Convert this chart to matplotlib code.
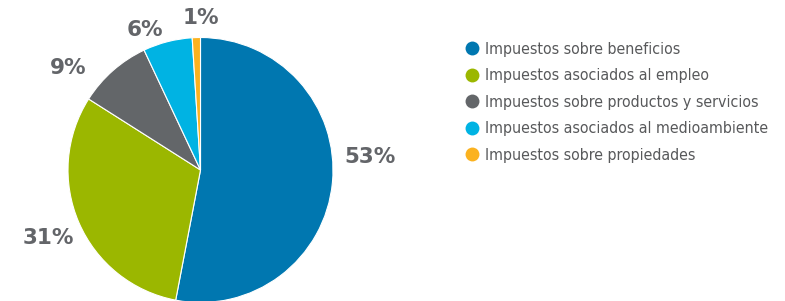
import matplotlib
matplotlib.use('Agg')
import matplotlib.pyplot as plt
from matplotlib.lines import Line2D

categories = ['Impuestos sobre beneficios',
              'Impuestos asociados al empleo',
              'Impuestos sobre productos y servicios',
              'Impuestos asociados al medioambiente',
              'Impuestos sobre propiedades']
values = [53, 31, 9, 6, 1]
pct_labels = ['53%', '31%', '9%', '6%', '1%']
colors = ['#0077b0', '#9bb700', '#636669', '#00b3e3', '#fbb21f']

# where the % labels sit, in pie radius units (picked by eye)
label_pos = [(1.28, 0.10), (-1.15, -0.51), (-1.0, 0.77), (-0.42, 1.06), (0.0, 1.15)]

W, H = 785, 301
fig = plt.figure(figsize=(W / 100, H / 100), dpi=100)

cx, cy, r = 200.5, 131.0, 132.5
ax = fig.add_axes([(cx - r) / W, (cy - r) / H, 2 * r / W, 2 * r / H])
ax.pie(values, colors=colors, startangle=90, counterclock=False, radius=1,
       wedgeprops=dict(edgecolor='white', linewidth=0.8))
ax.set_xlim(-1, 1)
ax.set_ylim(-1, 1)
ax.set_aspect('equal')
ax.axis('off')

for txt, (x, y) in zip(pct_labels, label_pos):
    ax.text(x, y, txt, ha='center', va='center', fontsize=15.5, fontweight='bold',
            color='#636569', family=['DejaVu Sans'], clip_on=False)

handles = [Line2D([], [], linestyle='none', marker='o', markersize=10,
                  markerfacecolor=c, markeredgecolor='none') for c in colors]
leg = fig.legend(handles, categories, loc='upper left', bbox_to_anchor=(466 / W, 1 - 42 / H),
                 frameon=False, handlelength=0.8, handletextpad=0.4, labelspacing=0.72,
                 borderpad=0, borderaxespad=0,
                 prop=dict(family=['DejaVu Sans'], stretch='condensed', size=11.4))
for t in leg.get_texts():
    t.set_color('#58595b')

fig.savefig('out.png', dpi=100)
